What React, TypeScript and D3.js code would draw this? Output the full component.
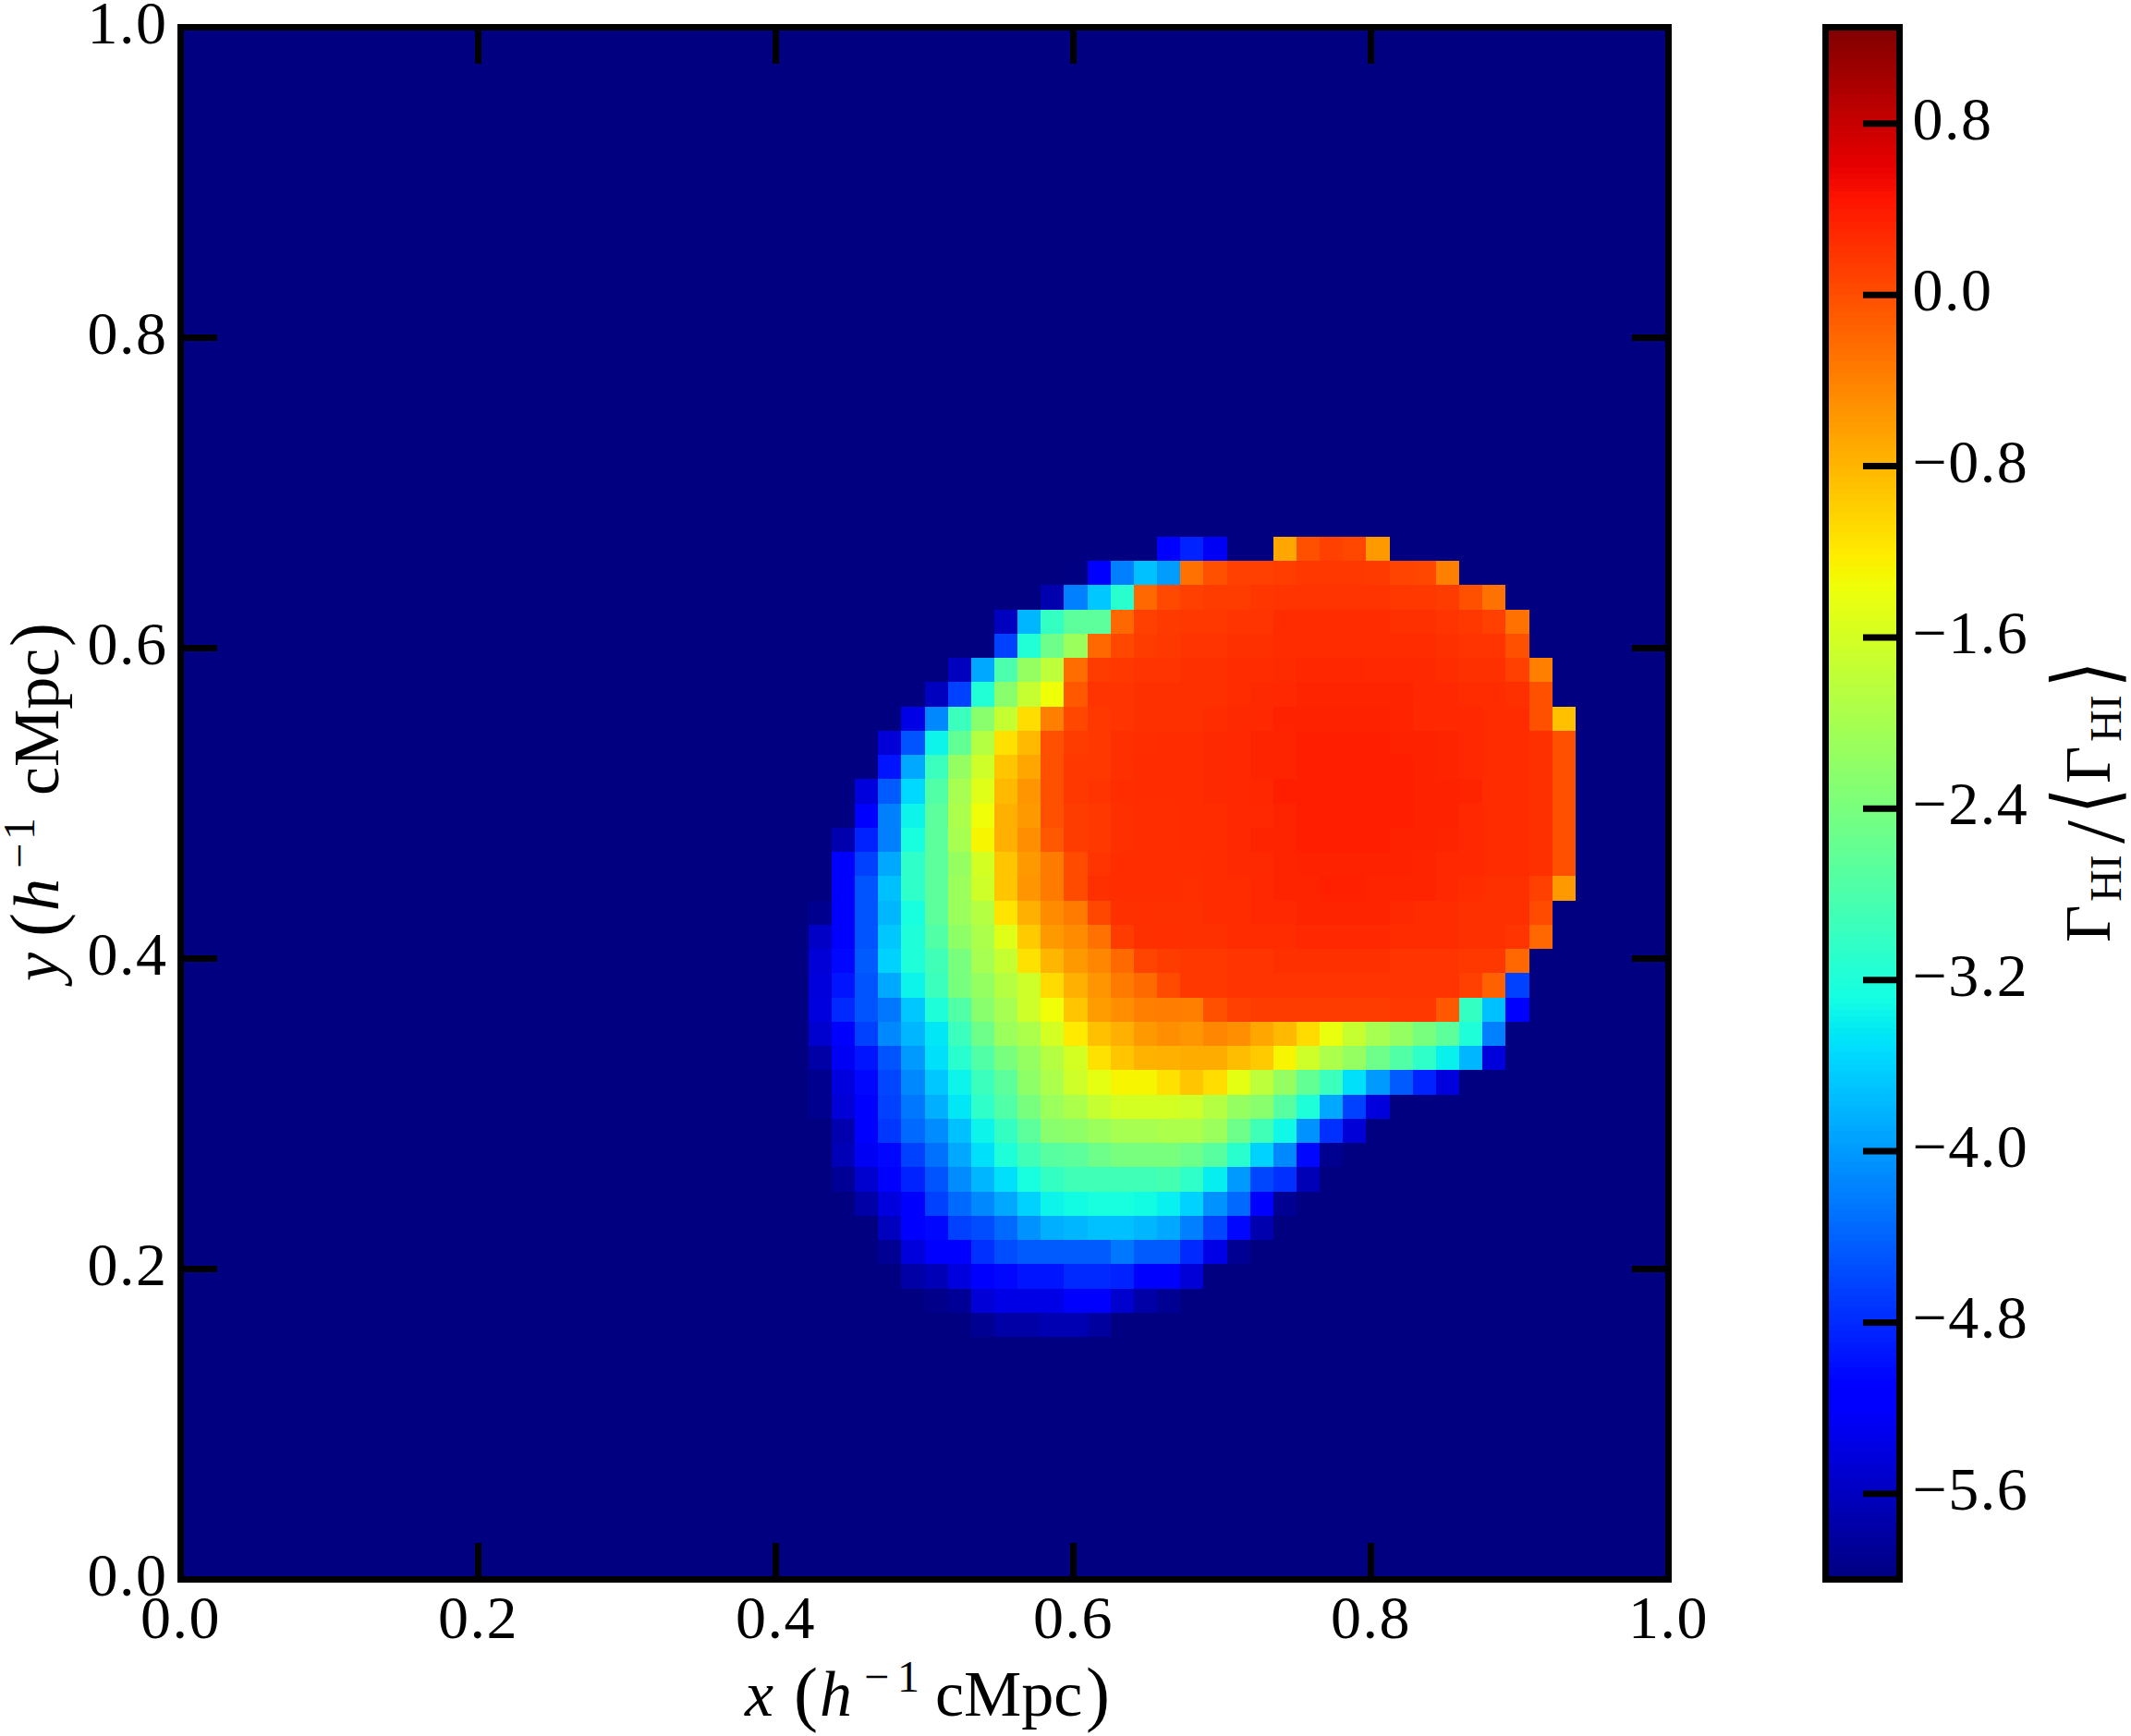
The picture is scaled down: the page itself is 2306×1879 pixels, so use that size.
import * as d3 from "d3";
import React, { useRef, useEffect } from "react";

// log10 of the rate ratio (64 x 64 grid)
// anything outside these runs sits at the floor of the colour range
const row10 = [-5.88, -5.75, -5.75, -5.68, -5.68, -5.8];
const row11 = [-5.93, -5.85, -5.45, -5.35, -5.35, -5.35, -5.2, -5.2, -5.5, -5.75, -5.88];
const row12 = [-5.75, -5.65, -5.4, -5.2, -5.05, -4.95, -4.95, -4.8, -4.8, -4.85, -5.2, -5.2, -5.45];
const row13 = [-5.88, -5.42, -5.2, -5.2, -4.75, -4.55, -4.45, -4.45, -4.45, -4.45, -4.25, -4.45, -4.45, -4.8, -5.35, -5.88];
const row14 = [-5.6, -5.2, -5.05, -4.64, -4.55, -4.35, -4.05, -3.85, -3.8, -3.72, -3.72, -3.8, -3.9, -4.19, -4.6, -5.05, -5.7];
const row15 = [-5.75, -5.4, -5.2, -4.64, -4.35, -4.13, -3.9, -3.6, -3.35, -3.3, -3.25, -3.25, -3.3, -3.39, -3.6, -4.05, -4.35, -5.2, -5.88];
const row16 = [-5.85, -5.5, -5.2, -4.85, -4.5, -4.1, -3.8, -3.5, -3.25, -3.0, -2.9, -2.9, -2.9, -2.9, -2.85, -3.05, -3.4, -4.0, -4.6, -4.75, -5.65];
const row17 = [-5.65, -5.27, -5.05, -4.64, -4.3, -3.9, -3.5, -3.2, -2.9, -2.7, -2.65, -2.5, -2.4, -2.4, -2.4, -2.5, -2.7, -3.1, -3.6, -4.13, -5.05, -5.9];
const row18 = [-5.7, -5.2, -4.7, -4.35, -4.1, -3.72, -3.35, -3.0, -2.65, -2.25, -2.2, -2.1, -2.0, -2.0, -1.95, -1.95, -2.1, -2.5, -2.9, -3.33, -4.05, -4.75, -5.45];
const row19 = [-5.9, -5.45, -5.2, -4.64, -4.25, -3.85, -3.45, -3.05, -2.75, -2.4, -2.1, -1.95, -1.72, -1.6, -1.6, -1.6, -1.65, -1.87, -2.15, -2.25, -2.7, -3.2, -3.9, -4.64, -5.42];
const row20 = [-5.9, -5.4, -5.05, -4.6, -4.13, -3.68, -3.35, -2.95, -2.65, -2.2, -1.95, -1.65, -1.45, -1.28, -1.28, -1.13, -0.92, -1.1, -1.45, -1.8, -2.15, -2.6, -2.95, -3.5, -4.0, -4.45, -4.85, -5.42];
const row21 = [-5.75, -5.27, -4.95, -4.5, -4.0, -3.5, -3.1, -2.75, -2.4, -2.15, -1.87, -1.6, -1.13, -0.92, -0.78, -0.75, -0.72, -0.72, -0.85, -0.95, -1.28, -1.65, -1.95, -2.15, -2.5, -2.75, -3.05, -3.38, -3.8, -5.42];
const row22 = [-5.5, -5.2, -4.64, -4.13, -3.8, -3.45, -2.95, -2.5, -2.1, -1.95, -1.6, -1.2, -0.88, -0.75, -0.58, -0.5, -0.55, -0.43, -0.5, -0.68, -0.83, -1.08, -1.4, -1.72, -2.0, -2.15, -2.4, -2.65, -3.2, -4.19];
const row23 = [-5.4, -4.8, -4.5, -4.25, -3.68, -3.2, -2.75, -2.25, -2.0, -1.65, -1.35, -0.92, -0.6, -0.5, -0.38, -0.36, -0.38, -0.02, 0.11, 0.14, 0.14, 0.14, 0.14, 0.14, 0.14, 0.17, 0.17, -0.08, -3.0, -3.72, -5.2];
const row24 = [-5.42, -4.95, -4.5, -3.9, -3.35, -2.95, -2.4, -2.15, -1.87, -1.65, -1.08, -0.75, -0.55, -0.35, -0.22, 0.02, 0.17, 0.17, 0.2, 0.2, 0.2, 0.2, 0.2, 0.2, 0.2, 0.2, 0.2, 0.2, 0.11, -0.14, -4.64];
const row25 = [-5.45, -5.05, -4.45, -3.6, -3.2, -2.9, -2.4, -2.0, -1.72, -1.13, -0.8, -0.58, -0.43, -0.22, 0.08, 0.14, 0.17, 0.17, 0.2, 0.2, 0.23, 0.23, 0.23, 0.23, 0.23, 0.2, 0.2, 0.2, 0.17, 0.17, -0.2];
const row26 = [-5.55, -5.2, -4.5, -3.68, -3.2, -2.75, -2.2, -1.95, -1.5, -0.95, -0.58, -0.47, -0.27, 0.14, 0.23, 0.24, 0.23, 0.23, 0.26, 0.26, 0.26, 0.29, 0.29, 0.29, 0.29, 0.26, 0.26, 0.26, 0.23, 0.23, 0.2, -0.2];
const row27 = [-5.9, -5.2, -4.5, -3.8, -3.25, -2.65, -2.1, -1.87, -1.15, -0.75, -0.47, -0.35, 0.05, 0.23, 0.24, 0.23, 0.23, 0.26, 0.26, 0.29, 0.29, 0.32, 0.32, 0.32, 0.32, 0.28, 0.26, 0.26, 0.23, 0.23, 0.23, 0.02];
const row28 = [-5.2, -4.5, -3.72, -3.05, -2.65, -2.1, -1.65, -0.92, -0.55, -0.35, 0.02, 0.23, 0.25, 0.25, 0.25, 0.24, 0.26, 0.26, 0.29, 0.32, 0.32, 0.35, 0.35, 0.32, 0.32, 0.32, 0.29, 0.26, 0.23, 0.23, 0.11, -0.58];
const row29 = [-5.2, -4.64, -3.9, -3.05, -2.65, -2.15, -1.6, -0.92, -0.58, -0.35, 0.02, 0.2, 0.25, 0.25, 0.25, 0.25, 0.26, 0.28, 0.28, 0.32, 0.34, 0.34, 0.34, 0.34, 0.34, 0.32, 0.29, 0.29, 0.26, 0.26, 0.23, -0.02];
const row30 = [-5.7, -4.85, -4.19, -3.25, -2.65, -2.0, -1.28, -0.75, -0.5, -0.08, 0.14, 0.17, 0.23, 0.25, 0.25, 0.26, 0.26, 0.29, 0.32, 0.32, 0.36, 0.36, 0.36, 0.36, 0.34, 0.34, 0.32, 0.29, 0.26, 0.26, 0.23, -0.02];
const row31 = [-5.2, -4.19, -3.35, -2.65, -1.95, -1.35, -0.75, -0.58, -0.02, 0.14, 0.17, 0.23, 0.25, 0.25, 0.26, 0.26, 0.29, 0.29, 0.32, 0.36, 0.36, 0.36, 0.36, 0.36, 0.34, 0.34, 0.29, 0.26, 0.26, 0.23, -0.02];
const row32 = [-5.42, -4.45, -3.55, -2.75, -2.0, -1.5, -0.83, -0.55, -0.02, 0.17, 0.2, 0.25, 0.26, 0.26, 0.26, 0.28, 0.29, 0.3, 0.36, 0.36, 0.36, 0.36, 0.36, 0.36, 0.34, 0.34, 0.32, 0.26, 0.26, 0.23, -0.02];
const row33 = [-4.95, -3.9, -2.95, -2.15, -1.65, -0.92, -0.68, -0.02, 0.17, 0.17, 0.23, 0.26, 0.26, 0.26, 0.28, 0.29, 0.32, 0.32, 0.36, 0.36, 0.36, 0.36, 0.36, 0.34, 0.32, 0.29, 0.26, 0.26, 0.23, -0.02];
const row34 = [-5.45, -4.5, -3.35, -2.6, -1.87, -1.13, -0.83, -0.02, 0.14, 0.17, 0.23, 0.25, 0.26, 0.26, 0.28, 0.29, 0.32, 0.32, 0.36, 0.36, 0.36, 0.36, 0.34, 0.34, 0.32, 0.29, 0.26, 0.26, 0.23, -0.02];
const row35 = [-5.35, -4.13, -2.95, -2.25, -1.72, -1.1, -0.38, 0.05, 0.17, 0.2, 0.23, 0.23, 0.23, 0.26, 0.28, 0.29, 0.34, 0.34, 0.34, 0.34, 0.34, 0.33, 0.29, 0.29, 0.29, 0.26, 0.26, -0.02, -0.88];
const row36 = [-5.6, -4.64, -3.17, -2.25, -1.72, -1.36, -0.08, 0.2, 0.2, 0.23, 0.23, 0.23, 0.23, 0.26, 0.28, 0.29, 0.32, 0.32, 0.32, 0.32, 0.32, 0.29, 0.29, 0.26, 0.26, 0.23, -0.02];
const row37 = [-5.6, -3.9, -2.8, -2.15, -1.8, -0.23, 0.14, 0.17, 0.2, 0.2, 0.23, 0.23, 0.26, 0.26, 0.27, 0.3, 0.3, 0.3, 0.29, 0.29, 0.28, 0.26, 0.23, 0.23, 0.11, -0.38];
const row38 = [-4.64, -3.17, -2.5, -2.1, -0.2, 0.05, 0.14, 0.17, 0.2, 0.2, 0.23, 0.23, 0.26, 0.26, 0.26, 0.26, 0.26, 0.26, 0.26, 0.23, 0.2, 0.2, -0.02];
const row39 = [-5.6, -3.8, -3.0, -2.65, -2.65, -0.2, 0.11, 0.15, 0.17, 0.17, 0.2, 0.2, 0.26, 0.26, 0.26, 0.26, 0.26, 0.23, 0.23, 0.2, 0.17, 0.11, -0.27];
const row40 = [-5.7, -4.19, -3.68, -3.1, -0.2, 0.04, 0.11, 0.14, 0.14, 0.18, 0.2, 0.2, 0.2, 0.2, 0.2, 0.17, 0.17, 0.14, -0.02, -0.27];
const row41 = [-5.98, -5.2, -4.19, -3.72, -3.98, -0.27, -0.02, 0.11, 0.11, 0.13, 0.17, 0.17, 0.17, 0.15, 0.08, 0.05, -0.38];
const row42 = [-5.2, -4.85, -5.27, -6, -6, -0.68, -0.02, 0.11, 0.05, -0.58];

const rows = [
    row10, row11, row12, row13, row14, row15, row16, row17, row18, row19, row20,
    row21, row22, row23, row24, row25, row26, row27, row28, row29, row30, row31,
    row32, row33, row34, row35, row36, row37, row38, row39, row40, row41, row42,
];
const firstRow = 10;
// grid column of the first value in each row above
const firstCols = [
    34, 32, 31, 30, 30, 29, 28, 28, 28, 27, 27,
    27, 27, 27, 27, 27, 27, 27, 28, 28, 28, 29,
    29, 30, 30, 31, 32, 33, 35, 35, 37, 38, 42,
];

const gridSize = 64;
const colorDomain = [-6, 1.25];
const xTicks = [0, 0.2, 0.4, 0.6, 0.8, 1];
const yTicks = [0, 0.2, 0.4, 0.6, 0.8, 1];
const colorTicks = [0.8, 0, -0.8, -1.6, -2.4, -3.2, -4, -4.8, -5.6];

const serif = "'Liberation Serif', serif";

// matplotlib's jet
const jetR = d3.scaleLinear([0, 0.35, 0.66, 0.89, 1], [0, 0, 1, 1, 0.5]).clamp(true);
const jetG = d3.scaleLinear([0, 0.125, 0.375, 0.64, 0.91, 1], [0, 0, 1, 1, 0, 0]).clamp(true);
const jetB = d3.scaleLinear([0, 0.11, 0.34, 0.65, 1], [0.5, 1, 1, 0, 0]).clamp(true);
const jet = (t: number) =>
    d3.rgb(jetR(t) * 255, jetG(t) * 255, jetB(t) * 255).formatRgb();

type Piece = { t: string; x: number; y?: number; size: number; italic?: boolean; font?: string; sx?: number };

const xLabelPieces: Piece[] = [
    { t: "x", x: 806, size: 70, italic: true },
    { t: "(", x: 859, y: 2, size: 78 },
    { t: "h", x: 887, size: 70, italic: true },
    { t: "\u2212", x: 935, y: -26, size: 48 },
    { t: "1", x: 971, y: -26, size: 48 },
    { t: "cMpc", x: 1012, size: 70 },
    { t: ")", x: 1175, y: 2, size: 78 },
];

const yLabelPieces: Piece[] = [
    { t: "y", x: 0, size: 70, italic: true },
    { t: "(", x: 48, y: 2, size: 78 },
    { t: "h", x: 76, size: 70, italic: true },
    { t: "\u2212", x: 122, y: -26, size: 48 },
    { t: "1", x: 153, y: -26, size: 48 },
    { t: "cMpc", x: 201, size: 70 },
    { t: ")", x: 362, y: 2, size: 78 },
];

const colorLabelPieces: Piece[] = [
    { t: "\u0393", x: 0, size: 70 },
    { t: "HI", x: 44, y: 12, size: 48 },
    { t: "/", x: 107, y: 15, size: 90 },
    { t: "\u27E8", x: 139, y: 5, size: 94, font: "'DejaVu Sans'", sx: 0.77 },
    { t: "\u0393", x: 172, size: 70 },
    { t: "HI", x: 217, y: 12, size: 48 },
    { t: "\u27E9", x: 276, y: 5, size: 94, font: "'DejaVu Sans'", sx: 0.77 },
];

function App() {
    const ref = useRef<SVGSVGElement>(null);

    const width = 2306;
    const height = 1879;
    const plot = { left: 195.5, right: 1805.5, top: 29.5, bottom: 1709.5 };
    const bar = { left: 1975.5, right: 2055.5 };
    const tickLength = 39.5;

    useEffect(() => {
        const svg = d3.select(ref.current);
        svg.selectAll("*").remove();

        const xScale = d3.scaleLinear().domain([0, 1]).range([plot.left, plot.right]);
        const yScale = d3.scaleLinear().domain([0, 1]).range([plot.bottom, plot.top]);
        const colorY = d3.scaleLinear().domain(colorDomain).range([plot.bottom, plot.top]);
        const colorT = d3.scaleLinear().domain(colorDomain).range([0, 1]).clamp(true);

        const cells: { c: number; r: number; v: number }[] = [];
        d3.range(gridSize).forEach((r) => {
            d3.range(gridSize).forEach((c) => {
                const values = rows[r - firstRow];
                const v = values ? values[c - firstCols[r - firstRow]] : undefined;
                cells.push({ c, r, v: v === undefined ? colorDomain[0] : v });
            });
        });

        svg.append("g")
            .attr("shape-rendering", "crispEdges")
            .selectAll("rect")
            .data(cells)
            .join("rect")
            .attr("x", (d) => xScale(d.c / gridSize))
            .attr("y", (d) => yScale((d.r + 1) / gridSize))
            .attr("width", xScale(1 / gridSize) - xScale(0))
            .attr("height", yScale(0) - yScale(1 / gridSize))
            .attr("fill", (d) => jet(colorT(d.v)));

        // colour bar, 256 levels like the colormap
        const levels = d3.range(256);
        const levelValue = d3.scaleLinear().domain([0, 256]).range(colorDomain);
        svg.append("g")
            .attr("shape-rendering", "crispEdges")
            .selectAll("rect")
            .data(levels)
            .join("rect")
            .attr("x", bar.left)
            .attr("width", bar.right - bar.left)
            .attr("y", (d) => colorY(levelValue(d + 1)))
            .attr("height", (d) => colorY(levelValue(d)) - colorY(levelValue(d + 1)) + 0.5)
            .attr("fill", (d) => jet((d + 0.5) / 256));

        const styleAxis = (g: any, labelX: number | null, labelY: number, anchor: string) => {
            g.select(".domain").remove();
            g.selectAll("line").attr("stroke", "#000").attr("stroke-width", 7);
            if (labelX === null && labelY === 0) {
                g.selectAll("text").remove();
                return;
            }
            g.selectAll("text")
                .attr("font-family", serif)
                .attr("font-size", 66)
                .attr("letter-spacing", 1.5)
                .attr("fill", "#000")
                .attr("dy", 0)
                .attr("text-anchor", anchor)
                .attr("y", labelY);
            if (labelX !== null) g.selectAll("text").attr("x", labelX);
        };

        const fmt = d3.format(".1f");

        svg.append("g")
            .attr("transform", `translate(0, ${plot.bottom})`)
            .call(d3.axisBottom(xScale).tickValues(xTicks).tickSize(-tickLength).tickFormat(fmt).offset(0))
            .call(styleAxis, null, 63.5, "middle");
        svg.append("g")
            .attr("transform", `translate(0, ${plot.top})`)
            .call(d3.axisTop(xScale).tickValues(xTicks).tickSize(-tickLength).offset(0))
            .call(styleAxis, null, 0, "middle");
        svg.append("g")
            .attr("transform", `translate(${plot.left}, 0)`)
            .call(d3.axisLeft(yScale).tickValues(yTicks).tickSize(-tickLength).tickFormat(fmt).offset(0))
            .call(styleAxis, -14, 17, "end");
        svg.append("g")
            .attr("transform", `translate(${plot.right}, 0)`)
            .call(d3.axisRight(yScale).tickValues(yTicks).tickSize(-tickLength).offset(0))
            .call(styleAxis, null, 0, "start");
        svg.append("g")
            .attr("transform", `translate(${bar.right}, 0)`)
            .call(d3.axisRight(colorY).tickValues(colorTicks).tickSize(-tickLength).tickFormat(fmt).offset(0))
            .call(styleAxis, 14, 17, "start");

        // spines
        svg.append("rect")
            .attr("x", plot.left)
            .attr("y", plot.top)
            .attr("width", plot.right - plot.left)
            .attr("height", plot.bottom - plot.top)
            .attr("fill", "none")
            .attr("stroke", "#000")
            .attr("stroke-width", 7);
        svg.append("rect")
            .attr("x", bar.left)
            .attr("y", plot.top)
            .attr("width", bar.right - bar.left)
            .attr("height", plot.bottom - plot.top)
            .attr("fill", "none")
            .attr("stroke", "#000")
            .attr("stroke-width", 7);

        const drawLabel = (transform: string, pieces: Piece[]) => {
            svg.append("g")
                .attr("transform", transform)
                .selectAll("text")
                .data(pieces)
                .join("text")
                .attr("transform", (d) => `translate(${d.x}, ${d.y || 0}) scale(${d.sx || 1}, 1)`)
                .attr("font-family", (d) => d.font || serif)
                .attr("font-size", (d) => d.size)
                .attr("font-style", (d) => (d.italic ? "italic" : "normal"))
                .attr("fill", "#000")
                .text((d) => d.t);
        };

        drawLabel("translate(0, 1857)", xLabelPieces);
        drawLabel("translate(63, 1062) rotate(-90)", yLabelPieces);
        drawLabel("translate(2283, 1020) rotate(-90)", colorLabelPieces);
    }, []);

    return (
        <svg
            ref={ref}
            width={width}
            height={height}
            style={{ position: "absolute", left: 0, top: 0, background: "#fff" }}
        ></svg>
    );
}

export default App;
